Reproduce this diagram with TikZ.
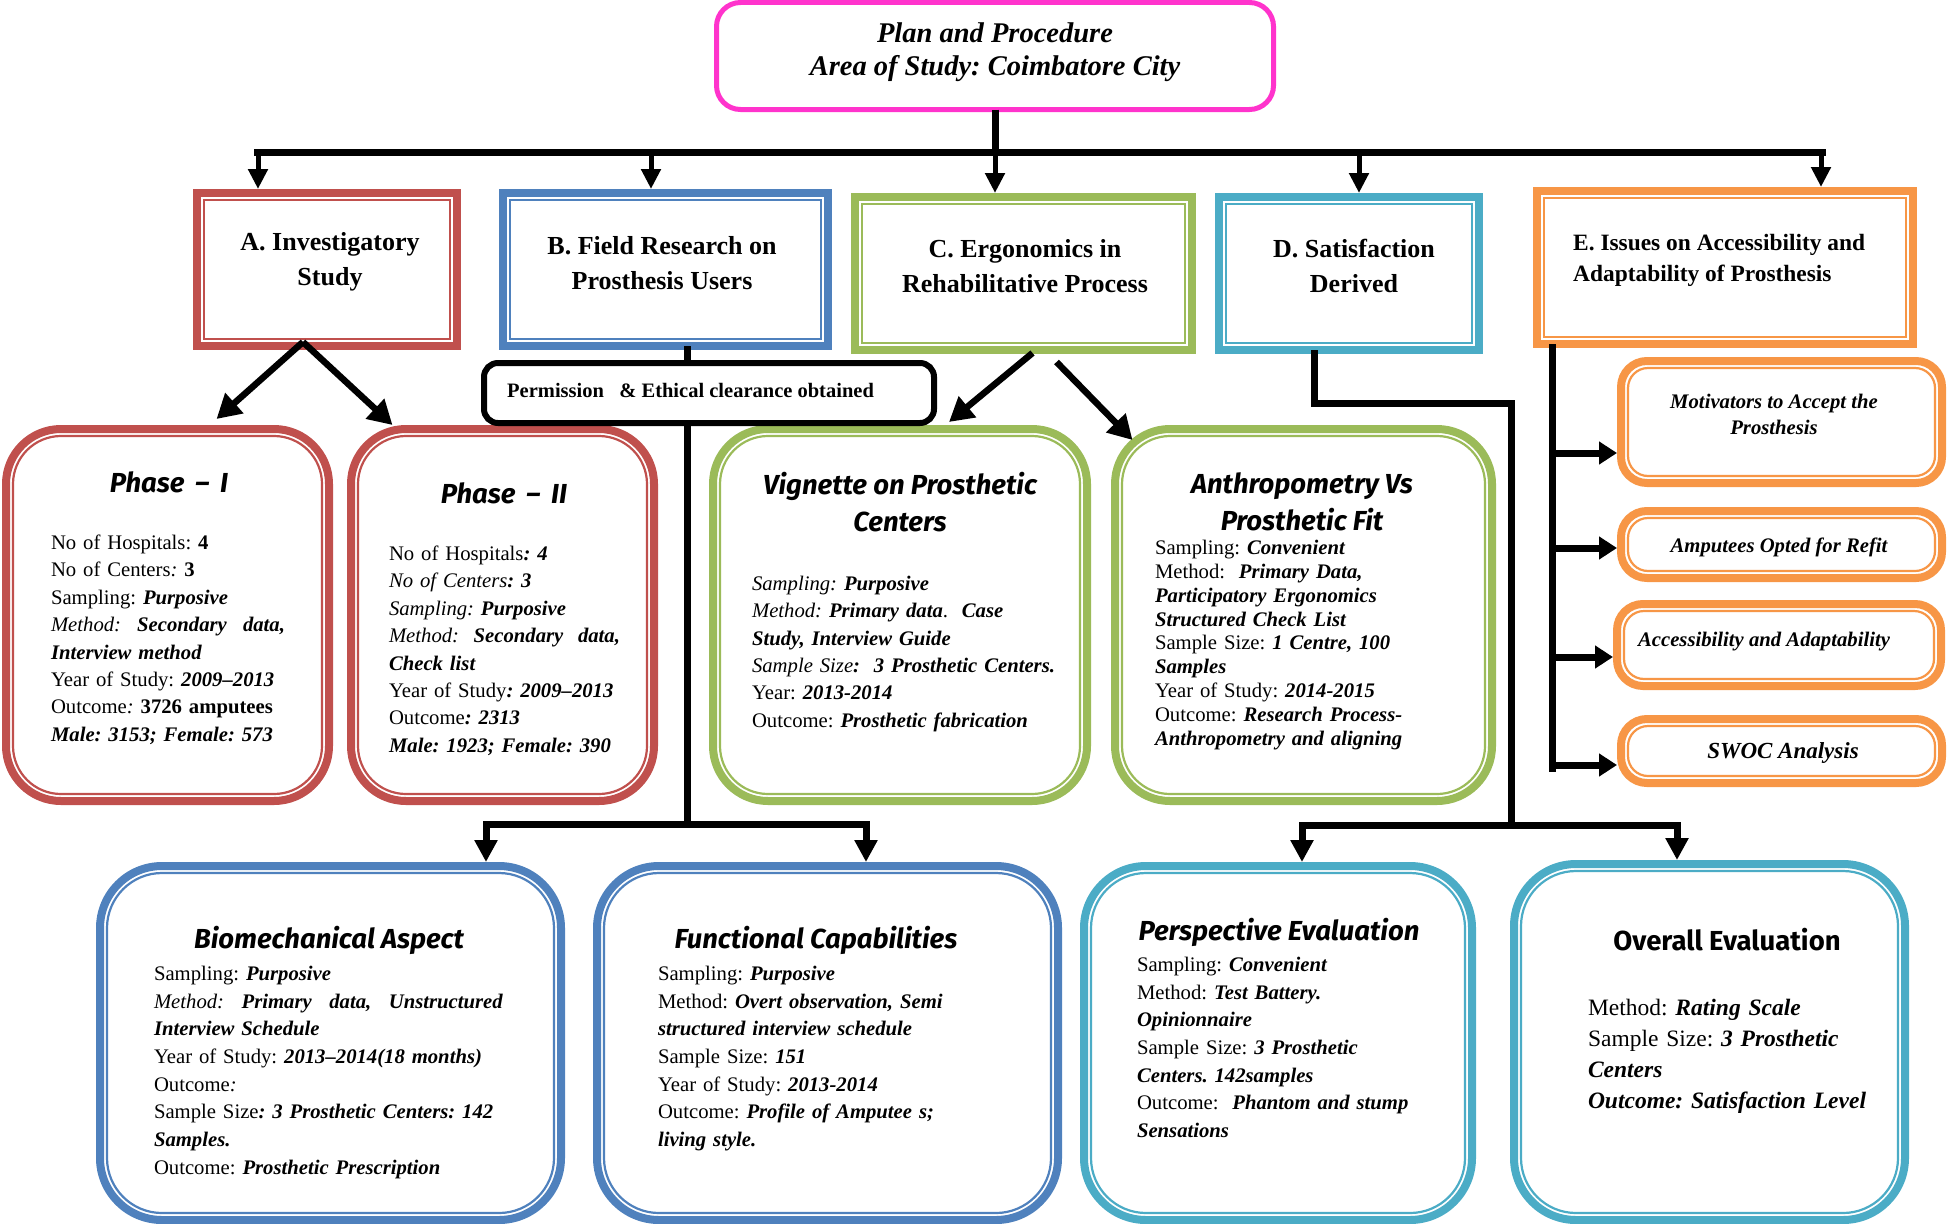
\documentclass[tikz,border=0pt]{standalone}
\usepackage{fontspec}
\setmainfont{Liberation Serif}
\newfontfamily\ttlfont{Fira Sans}
\usetikzlibrary{arrows.meta,calc}
\definecolor{cRed}{HTML}{C0504D}
\definecolor{cBlue}{HTML}{4F81BD}
\definecolor{cGreen}{HTML}{9BBB59}
\definecolor{cTeal}{HTML}{4BACC6}
\definecolor{cOrange}{HTML}{F79646}
\definecolor{cPink}{RGB}{255,51,204}
\newcommand\BI[1]{\textbf{\textit{#1}}}
% #1 name, #2 colour, #3 x1, #4 y1, #5 x2, #6 y2, #7 outer options, #8 inner options
\newcommand\mkbox[8]{%
  \node[boxnode, draw=#2, #7, minimum width={#5-#3-8}, minimum height={#6-#4-8}] (#1) at ({(#3+#5)/2},{(#4+#6)/2}) {};
  \draw[#2, line width=2.2pt, #8] ([shift={(7,7)}]#1.north west) rectangle ([shift={(-7,-7)}]#1.south east);
}
\frenchspacing
\begin{document}
\frenchspacing
\begin{tikzpicture}[x=1pt,y=-1pt,
  boxnode/.style={rectangle, line width=8pt, fill=white, inner sep=0pt, outer sep=0pt},
  conn/.style={line width=7pt, black},
  stemarr/.style={line width=5pt, black, -{Triangle[length=20pt,width=19pt]}, shorten >=4pt},
  diagarr/.style={line width=6.5pt, black, -{Triangle[length=24pt,width=26pt]}},
  sidearr/.style={line width=7pt, black, -{Triangle[length=18pt,width=22pt]}, shorten >=4pt},
  botarr/.style={line width=7pt, black, -{Triangle[length=22pt,width=22pt]}, shorten >=4pt},
  hdrtxt/.style={inner sep=0pt, align=center, font={\fontsize{26}{34.5}\selectfont\bfseries}},
  ttl/.style={inner sep=0pt, align=center, font={\ttlfont\fontsize{27.5}{37}\selectfont\bfseries\itshape}},
  body/.style={anchor=north west, inner sep=0pt, outer sep=0pt, align=left, font={\fontsize{20.7}{27.4}\selectfont}},
  otxt/.style={inner sep=0pt, align=center, font={\fontsize{20.7}{26}\selectfont\bfseries\itshape}}
]
\useasboundingbox (0,0) rectangle (1948,1223);
\clip (0,0) rectangle (1948,1223);

% ---------- top box
\node[draw=cPink, line width=5pt, rounded corners=24pt, fill=white, inner sep=0pt, outer sep=0pt,
      minimum width=557pt, minimum height=107pt] (top) at (995,56) {};
\node[inner sep=0pt, align=center, font={\fontsize{28.5}{33.5}\selectfont\bfseries\itshape}] (tTop) at (995,52)
  {Plan and Procedure\\Area of Study: Coimbatore City};

% ---------- header boxes
\mkbox{A}{cRed}{193}{189}{461}{350}{sharp corners}{sharp corners}
\mkbox{B}{cBlue}{499}{189}{832}{350}{sharp corners}{sharp corners}
\mkbox{C}{cGreen}{851}{193}{1196}{354}{sharp corners}{sharp corners}
\mkbox{D}{cTeal}{1215}{193}{1483}{354}{sharp corners}{sharp corners}
\mkbox{E}{cOrange}{1533}{187}{1917}{348}{sharp corners}{sharp corners}

% ---------- rounded boxes
\mkbox{P1}{cRed}{2}{425}{333}{805}{rounded corners=55pt}{rounded corners=48pt}
\mkbox{P2}{cRed}{347}{425}{658}{805}{rounded corners=55pt}{rounded corners=48pt}
\mkbox{V}{cGreen}{709}{425}{1091}{805}{rounded corners=55pt}{rounded corners=48pt}
\mkbox{An}{cGreen}{1111}{425}{1496}{805}{rounded corners=55pt}{rounded corners=48pt}
\mkbox{Bio}{cBlue}{96}{862}{565}{1224}{rounded corners=62pt}{rounded corners=55pt}
\mkbox{Fu}{cBlue}{593}{862}{1062}{1224}{rounded corners=62pt}{rounded corners=55pt}
\mkbox{Pe}{cTeal}{1080}{862}{1476}{1224}{rounded corners=62pt}{rounded corners=55pt}
\mkbox{Ov}{cTeal}{1510}{860}{1909}{1224}{rounded corners=62pt}{rounded corners=55pt}

% ---------- orange sub boxes
\mkbox{Mo}{cOrange}{1617}{357}{1946}{487}{rounded corners=26pt}{rounded corners=20pt}
\mkbox{Am}{cOrange}{1617}{507}{1946}{582}{rounded corners=26pt}{rounded corners=20pt}
\mkbox{Ac}{cOrange}{1613}{600}{1945}{690}{rounded corners=26pt}{rounded corners=20pt}
\mkbox{Sw}{cOrange}{1617}{715}{1946}{787}{rounded corners=26pt}{rounded corners=20pt}

% ---------- top tree
\coordinate (tj) at (995,152);
\coordinate (barL) at (254,152);
\coordinate (barR) at (1826,152);
\draw[conn] (top.south) -- (tj);
\draw[conn] (barL) -- (barR);
\coordinate (sA) at (258,152);
\coordinate (sB) at (651,152);
\coordinate (sC) at (995,152);
\coordinate (sD) at (1359,152);
\coordinate (sE) at (1821,152);
\draw[stemarr] (sA) -- (sA |- A.north);
\draw[stemarr] (sB) -- (sB |- B.north);
\draw[stemarr] (sC) -- (sC |- C.north);
\draw[stemarr] (sD) -- (sD |- D.north);
\draw[stemarr] (sE) -- (sE |- E.north);

% ---------- A -> phases
\draw[diagarr] ([shift={(-24,-4)}]A.south) -- ([shift={(49,-10)}]P1.north);
\draw[diagarr] ([shift={(-24,-4)}]A.south) -- ([shift={(-110,-4)}]P2.north);

% ---------- C -> vignette / anthropometry
\draw[diagarr] ([shift={(9,3)}]C.south) -- ([shift={(49,-7)}]V.north);
\draw[diagarr] ([shift={(33,12)}]C.south) -- ([shift={(-171,11)}]An.north);

% ---------- B -> permission -> bottom
\coordinate (bj) at (687,824);
\coordinate (bl) at (486,824);
\coordinate (br) at (866,824);
\draw[conn] ([xshift=21.5]B.south) -- (bj);
\draw[conn, line cap=rect] (bl) -- (br);
\draw[botarr] (bl) -- (bl |- Bio.north);
\draw[botarr] (br) -- (br |- Fu.north);

\node[draw=black, line width=6pt, rounded corners=14pt, fill=white, inner sep=0pt, outer sep=0pt,
      minimum width=450pt, minimum height=60pt] (perm) at (709,393) {};
\node[anchor=west, inner sep=0pt, font={\fontsize{20.5}{24}\selectfont\bfseries}] (tperm) at (507,390)
  {Permission\hspace{0.75em}\& Ethical clearance obtained};

% ---------- D -> bottom
\coordinate (dk) at (1511,403);
\coordinate (dj) at (1511,825);
\coordinate (dl) at (1302,825);
\coordinate (dr) at (1677,825);
\draw[conn] ([xshift=-35]D.south) |- (dk) -- (dj);
\draw[conn, line cap=rect] (dl) -- (dr);
\draw[botarr] (dl) -- (dl |- Pe.north);
\draw[botarr] (dr) -- (dr |- Ov.north);

% ---------- E -> sub boxes
\coordinate (ev) at (1552,772);
\draw[conn] (ev |- E.south) -- (ev);
\coordinate (e1) at (1552,453);
\coordinate (e2) at (1552,548);
\coordinate (e3) at (1552,657);
\coordinate (e4) at (1552,765);
\draw[sidearr] (e1) -- (e1 -| Mo.west);
\draw[sidearr] (e2) -- (e2 -| Am.west);
\draw[sidearr] (e3) -- (e3 -| Ac.west);
\draw[sidearr] (e4) -- (e4 -| Sw.west);

% ---------- header texts
\node[hdrtxt] (tA) at (330,262) {A. Investigatory\\Study};
\node[hdrtxt] (tB) at (662,263) {B. Field Research on\\Prosthesis Users};
\node[hdrtxt] (tC) at (1025,266) {C. Ergonomics in\\Rehabilitative Process};
\node[hdrtxt] (tD) at (1354,266) {D. Satisfaction\\Derived};
\node[inner sep=0pt, align=left, anchor=west, font={\fontsize{23.4}{31}\selectfont\bfseries}] (tE) at (1573,260)
  {E. Issues on Accessibility and\\Adaptability of Prosthesis};

% ---------- orange texts
\node[otxt] (tMo) at (1774,414) {Motivators to Accept the\\Prosthesis};
\node[otxt] (tAm) at (1779,547) {Amputees Opted for Refit};
\node[otxt] (tAc) at (1764,642) {Accessibility and Adaptability};
\node[otxt, font={\fontsize{23}{26}\selectfont\bfseries\itshape}] (tSw) at (1783,753) {SWOC Analysis};

% ---------- titles
\node[ttl] (hP1) at (169,482) {Phase \,–\, I};
\node[ttl] (hP2) at (504,493) {Phase \,–\, II};
\node[ttl] (hV) at (900,502) {Vignette on Prosthetic\\Centers};
\node[ttl] (hAn) at (1302,502) {Anthropometry Vs\\Prosthetic Fit};
\node[ttl] (hBio) at (329,940) {Biomechanical Aspect};
\node[ttl] (hFu) at (816,940) {Functional Capabilities};
\node[ttl] (hPe) at (1279,932) {Perspective Evaluation};
\node[ttl, font={\ttlfont\fontsize{27.5}{37}\selectfont\bfseries}] (hOv) at (1727,940) {Overall Evaluation};

% ---------- body texts
\node[body, text width=234pt] (bP1) at (51,535) {%
No of Hospitals: \textbf{4}\\
No of Centers\textit{:} \textbf{3}\\
Sampling: \BI{Purposive}\\
\textit{Method:}\hfill\BI{Secondary}\hfill\BI{data,}\\
\BI{Interview method}\\
Year of Study: \BI{2009–2013}\\
Outcome\textit{:} \textbf{3726 amputees}\\
\BI{Male: 3153; Female: 573}};

\node[body, text width=231pt] (bP2) at (389,546) {%
No of Hospitals\BI{: 4}\\
\textit{No of Centers}\BI{: 3}\\
\textit{Sampling:} \BI{Purposive}\\
\textit{Method:}\hfill\BI{Secondary}\hfill\BI{data,}\\
\BI{Check list}\\
Year of Study\BI{: 2009–2013}\\
Outcome\BI{: 2313}\\
\BI{Male: 1923; Female: 390}};

\node[body, text width=320pt] (bV) at (752,576) {%
\textit{Sampling:} \BI{Purposive}\\
\textit{Method:} \BI{Primary data}.\ \ \BI{Case}\\
\BI{Study, Interview Guide}\\
\textit{Sample Size}\BI{:\ \ 3 Prosthetic Centers.}\\
Year: \BI{2013-2014}\\
Outcome: \BI{Prosthetic fabrication}};

\node[body, text width=320pt, font={\fontsize{20.7}{23.9}\selectfont}] (bAn) at (1155,540) {%
Sampling: \BI{Convenient}\\
Method:\ \ \BI{Primary Data,}\\
\BI{Participatory Ergonomics}\\
\BI{Structured Check List}\\
Sample Size: \BI{1 Centre, 100}\\
\BI{Samples}\\
Year of Study: \BI{2014-2015}\\
Outcome: \BI{Research Process-}\\
\BI{Anthropometry and aligning}};

\node[body, text width=349pt, font={\fontsize{20.7}{27.7}\selectfont}] (bBio) at (154,966) {%
Sampling: \BI{Purposive}\\
\textit{Method:}\hfill\BI{Primary}\hfill\BI{data,}\hfill\BI{Unstructured}\\
\BI{Interview Schedule}\\
Year of Study: \BI{2013–2014(18 months)}\\
Outcome\textit{:}\\
Sample Size\BI{: 3 Prosthetic Centers: 142}\\
\BI{Samples.}\\
Outcome: \BI{Prosthetic Prescription}};

\node[body, text width=330pt, font={\fontsize{20.7}{27.7}\selectfont}] (bFu) at (658,966) {%
Sampling: \BI{Purposive}\\
Method: \BI{Overt observation, Semi}\\
\BI{structured interview schedule}\\
Sample Size: \BI{151}\\
Year of Study: \BI{2013-2014}\\
Outcome: \BI{Profile of Amputee s;}\\
\BI{living style.}};

\node[body, text width=320pt, font={\fontsize{20.7}{27.7}\selectfont}] (bPe) at (1137,957) {%
Sampling: \BI{Convenient}\\
Method: \BI{Test Battery.}\\
\BI{Opinionnaire}\\
Sample Size: \BI{3 Prosthetic}\\
\BI{Centers. 142samples}\\
Outcome:\ \ \BI{Phantom and stump}\\
\BI{Sensations}};

\node[body, text width=300pt, font={\fontsize{23.5}{31}\selectfont}] (bOv) at (1588,999) {%
Method: \BI{Rating Scale}\\
Sample Size: \BI{3 Prosthetic}\\
\BI{Centers}\\
\BI{Outcome: Satisfaction Level}};

\end{tikzpicture}
\end{document}
